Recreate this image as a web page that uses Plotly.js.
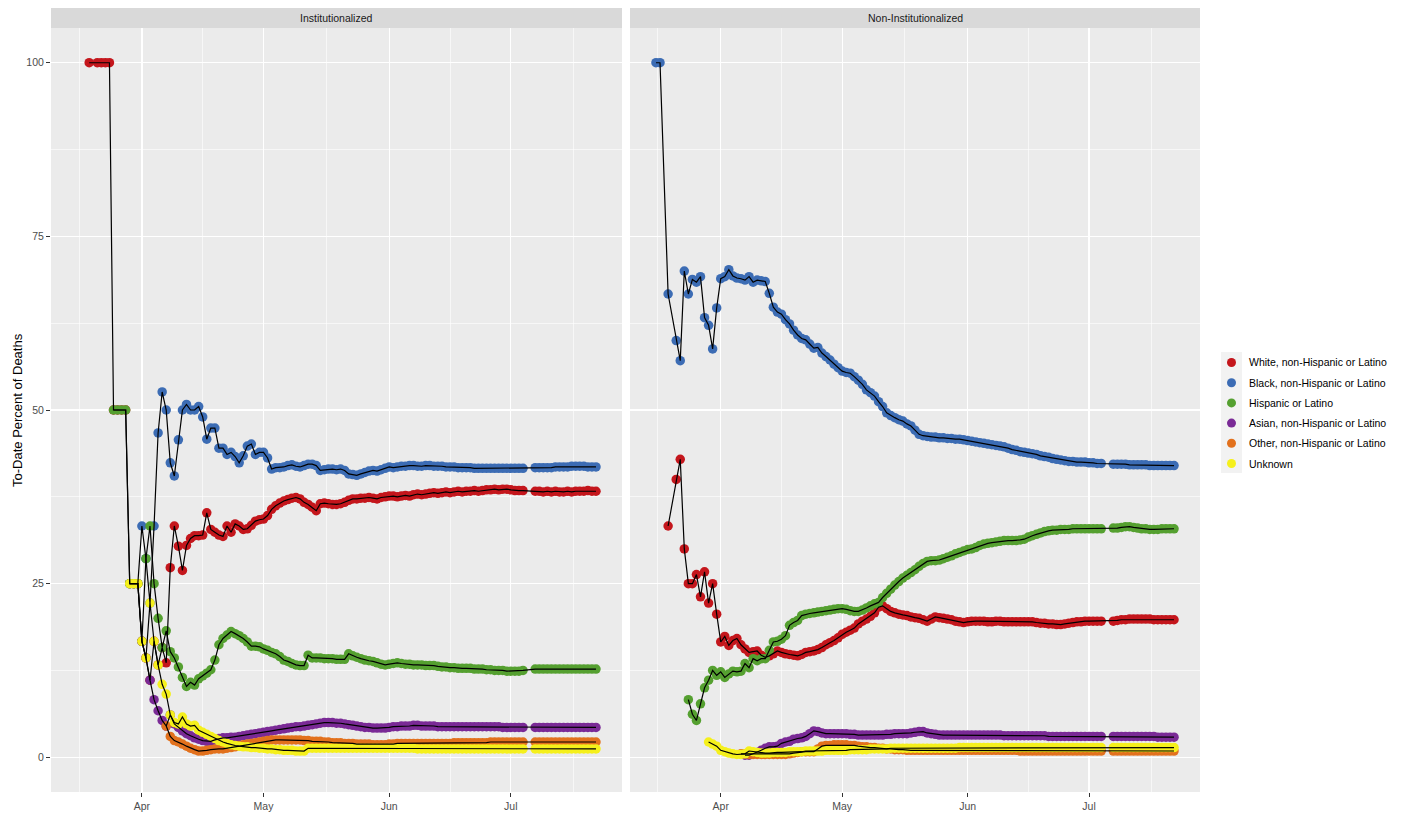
<!DOCTYPE html>
<html>
<head>
<meta charset="utf-8">
<script src="https://cdn.plot.ly/plotly-3.0.1.min.js"></script>
<style>html,body{margin:0;padding:0;background:#fff;overflow:hidden;}#chart{width:1402px;height:813px;}</style>
</head>
<body>
<div id="chart"></div>
<script>
// ---- DATA (daily, index 0 = 2020-03-16; null = no report that day) ----
const startDate = '2020-03-16';
const nDays = 129;
const panels = ['Institutionalized', 'Non-Institutionalized'];
const seriesNames = ['White, non-Hispanic or Latino','Black, non-Hispanic or Latino','Hispanic or Latino','Asian, non-Hispanic or Latino','Other, non-Hispanic or Latino','Unknown'];
const seriesColors = ['#C4161C','#3C6CB4','#55A030','#7A2A96','#E2711D','#F5F01C'];
const monthTicks = ['2020-04-01','2020-05-01','2020-06-01','2020-07-01'];
const monthLabels = ['Apr','May','Jun','Jul'];
const yTicks = [0,25,50,75,100];

// Institutionalized
const inst_white = [null,null,null,100,null,100,100,100,100,50,
 50,50,50,25,25,25,16.7,14.3,11.1,16.7,
 13.3,15.8,13.6,27.3,33.3,30.4,26.9,30.5,31.5,31.9,
 31.9,32.0,35.2,32.8,32.4,32.0,31.8,33.3,32.4,33.6,
 33.3,32.8,32.9,33.4,34.0,34.2,34.3,34.8,35.7,36.2,
 36.6,36.9,37.1,37.3,37.4,37.2,36.7,36.4,36.0,35.5,
 36.5,36.6,36.5,36.4,36.4,36.5,36.7,37.0,37.2,37.2,
 37.3,37.3,37.4,37.3,37.2,37.4,37.5,37.6,37.6,37.5,
 37.6,37.7,37.6,37.8,37.9,37.8,37.9,38.0,38.1,38.0,
 38.1,38.2,38.1,38.2,38.3,38.2,38.3,38.3,38.4,38.3,
 38.4,38.5,38.5,38.6,38.5,38.6,38.6,38.5,38.4,38.4,
 38.4,null,null,38.3,38.3,38.2,38.3,38.2,38.3,38.2,
 38.2,38.3,38.2,38.3,38.3,38.3,38.4,38.3,38.3];
const inst_black = [null,null,null,null,null,null,null,null,null,null,
 null,null,null,25,25,25,33.3,28.6,22.2,33.3,
 46.7,52.6,50.0,42.4,40.5,45.7,50.0,50.8,50.0,50.0,
 50.5,49.0,45.8,47.4,47.4,44.5,44.5,43.6,43.9,43.3,
 42.4,43.4,44.8,45.1,43.6,43.9,43.9,43.1,41.5,41.7,
 41.7,41.8,42.0,42.1,41.9,41.8,42.0,42.2,42.2,42.0,
 41.3,41.4,41.5,41.5,41.4,41.5,41.3,40.8,40.7,40.6,
 40.8,41.0,41.2,41.3,41.2,41.4,41.6,41.8,41.7,41.8,
 41.9,41.9,42.0,42.0,41.9,41.9,42.0,42.0,41.9,41.9,
 41.9,41.8,41.8,41.8,41.7,41.7,41.7,41.7,41.6,41.6,
 41.6,41.6,41.6,41.6,41.6,41.6,41.6,41.6,41.6,41.6,
 41.6,null,null,41.7,41.7,41.7,41.7,41.7,41.8,41.8,
 41.8,41.8,41.9,41.9,41.9,41.9,41.8,41.8,41.8];
const inst_hisp = [null,null,null,null,null,null,null,null,null,50,
 50,50,50,25,25,25,16.7,28.6,33.3,25.0,
 20.0,15.8,18.2,15.2,14.3,13.0,11.5,10.2,10.8,10.4,
 11.3,11.7,12.1,12.6,14.0,16.2,17.1,17.6,18.1,17.8,
 17.5,17.1,16.6,16.0,16.0,15.9,15.6,15.4,15.1,14.9,
 14.5,14.0,13.8,13.5,13.3,13.2,13.2,14.7,14.3,14.3,
 14.3,14.2,14.2,14.2,14.1,14.1,14.1,14.9,14.6,14.4,
 14.2,14.0,13.9,13.8,13.6,13.4,13.3,13.4,13.5,13.6,
 13.5,13.4,13.4,13.3,13.3,13.3,13.2,13.2,13.2,13.1,
 13.0,13.0,12.9,12.9,12.8,12.8,12.8,12.8,12.7,12.7,
 12.7,12.6,12.6,12.5,12.5,12.5,12.4,12.4,12.4,12.4,
 12.5,null,null,12.7,12.7,12.7,12.7,12.7,12.7,12.7,
 12.7,12.7,12.7,12.7,12.7,12.7,12.7,12.7,12.7];
const inst_asian = [null,null,null,null,null,null,null,null,null,null,
 null,null,null,null,null,null,16.7,14.3,11.1,8.3,
 6.7,5.3,4.5,6.1,4.8,4.3,3.8,3.4,3.1,2.8,
 2.6,2.4,2.3,2.3,2.5,2.7,2.8,2.8,2.9,2.9,
 3.0,3.1,3.2,3.3,3.4,3.5,3.6,3.7,3.8,3.9,
 4.0,4.1,4.2,4.3,4.4,4.4,4.5,4.6,4.7,4.8,
 4.9,5.0,5.0,5.0,4.9,4.9,4.8,4.7,4.6,4.5,
 4.4,4.3,4.3,4.2,4.2,4.2,4.2,4.3,4.4,4.4,
 4.5,4.5,4.5,4.6,4.6,4.5,4.5,4.5,4.5,4.4,
 4.4,4.4,4.4,4.4,4.4,4.4,4.4,4.4,4.4,4.4,
 4.4,4.4,4.4,4.4,4.4,4.3,4.3,4.3,4.3,4.3,
 4.3,null,null,4.3,4.3,4.3,4.3,4.3,4.3,4.3,
 4.3,4.3,4.3,4.3,4.3,4.3,4.3,4.3,4.3];
const inst_other = [null,null,null,null,null,null,null,null,null,null,
 null,null,null,null,null,null,null,null,null,null,
 null,null,4.5,3.0,2.4,2.2,1.9,1.6,1.3,1.1,
 0.9,0.9,1.0,1.1,1.2,1.2,1.2,1.3,1.4,1.5,
 1.7,1.8,1.9,2.0,2.1,2.2,2.3,2.4,2.5,2.5,
 2.5,2.5,2.5,2.5,2.5,2.5,2.4,2.4,2.3,2.3,
 2.3,2.2,2.2,2.1,2.1,2.1,2.0,2.0,2.0,1.9,
 1.9,1.9,1.9,1.8,1.8,1.8,1.8,1.9,1.9,2.0,
 2.0,2.0,2.0,2.0,2.0,2.0,2.0,2.0,2.0,2.0,
 2.0,2.0,2.0,2.1,2.1,2.1,2.1,2.1,2.1,2.1,
 2.1,2.1,2.2,2.2,2.2,2.2,2.2,2.2,2.2,2.2,
 2.2,null,null,2.2,2.2,2.2,2.2,2.2,2.2,2.2,
 2.2,2.2,2.2,2.2,2.2,2.2,2.2,2.2,2.2];
const inst_unknown = [null,null,null,null,null,null,null,null,null,null,
 null,null,null,25,25,25,16.7,14.3,22.2,16.7,
 13.3,10.5,9.1,6.1,5.0,4.8,5.8,4.8,4.5,4.6,
 3.9,3.6,3.3,3.0,2.7,2.4,2.2,2.0,1.8,1.7,
 1.6,1.5,1.5,1.4,1.4,1.3,1.3,1.2,1.2,1.1,
 1.1,1.0,1.0,1.0,0.9,0.9,0.9,1.3,1.3,1.3,
 1.3,1.3,1.3,1.3,1.3,1.3,1.3,1.3,1.3,1.3,
 1.3,1.3,1.3,1.3,1.3,1.3,1.3,1.3,1.3,1.3,
 1.3,1.3,1.3,1.3,1.2,1.2,1.2,1.2,1.2,1.2,
 1.2,1.2,1.2,1.2,1.2,1.2,1.2,1.2,1.2,1.2,
 1.2,1.2,1.2,1.2,1.2,1.2,1.2,1.2,1.2,1.2,
 1.2,null,null,1.2,1.2,1.2,1.2,1.2,1.2,1.2,
 1.2,1.2,1.2,1.2,1.2,1.2,1.2,1.2,1.2];

// Non-Institutionalized
const non_white = [null,null,null,33.3,null,40.0,42.9,30.0,25.0,25.0,
 26.3,23.1,26.7,22.2,25.0,20.6,16.6,17.4,16.1,16.8,
 17.1,16.2,15.6,15.1,15.2,15.3,14.7,14.4,14.6,14.9,
 15.3,15.1,14.9,14.8,14.7,14.6,14.8,15.1,15.2,15.3,
 15.5,15.8,16.2,16.5,16.8,17.2,17.7,18.0,18.3,18.6,
 19.2,19.6,19.9,20.3,20.8,21.6,21.8,21.4,21.0,20.8,
 20.6,20.5,20.4,20.2,20.1,20.0,19.8,19.6,19.9,20.2,
 20.1,20.0,19.9,19.8,19.6,19.5,19.4,19.5,19.6,19.6,
 19.6,19.6,19.5,19.5,19.6,19.6,19.5,19.5,19.5,19.5,
 19.5,19.5,19.5,19.5,19.4,19.3,19.3,19.2,19.2,19.1,
 19.1,19.2,19.3,19.4,19.5,19.5,19.6,19.6,19.6,19.6,
 19.6,null,null,19.6,19.7,19.8,19.8,19.9,19.9,19.9,
 19.9,19.9,19.9,19.8,19.8,19.8,19.8,19.8,19.8];
const non_black = [100,100,null,66.7,null,60.0,57.1,70.0,66.7,68.8,
 68.4,69.2,63.3,62.2,58.8,64.7,68.9,69.2,70.2,69.3,
 69.0,68.9,68.7,69.2,68.4,68.7,68.6,68.5,66.8,64.8,
 64.1,63.8,63.0,62.4,61.5,60.8,60.3,60.1,59.5,58.9,
 59.0,58.2,57.7,57.2,56.6,56.1,55.6,55.4,55.3,54.8,
 54.3,53.7,52.9,52.5,52.0,51.2,50.5,49.6,49.2,48.9,
 48.6,48.4,48.0,47.7,47.1,46.5,46.3,46.2,46.1,46.1,
 46.0,46.0,45.9,45.9,45.8,45.8,45.7,45.6,45.5,45.4,
 45.3,45.2,45.1,45.0,44.9,44.8,44.7,44.5,44.3,44.2,
 44.0,43.9,43.8,43.7,43.6,43.4,43.3,43.2,43.0,42.9,
 42.8,42.7,42.6,42.6,42.5,42.5,42.5,42.4,42.4,42.3,
 42.3,null,null,42.2,42.2,42.2,42.2,42.1,42.1,42.1,
 42.1,42.1,42.0,42.0,42.0,42.0,42.0,42.0,42.0];
const non_hisp = [null,null,null,null,null,null,null,null,8.3,6.2,
 5.3,7.7,10.0,11.1,12.5,11.8,12.3,11.5,12.0,12.4,
 12.3,12.4,13.5,12.9,14.2,13.9,14.2,14.2,15.4,16.6,
 16.7,17.0,17.5,19.0,19.4,19.7,20.4,20.6,20.7,20.8,
 20.9,21.0,21.1,21.2,21.3,21.4,21.4,21.3,21.1,21.0,
 21.0,21.2,21.5,21.8,22.1,22.3,23.0,23.6,24.2,24.8,
 25.3,25.8,26.2,26.6,27.0,27.5,27.9,28.2,28.3,28.3,
 28.4,28.6,28.8,29.0,29.3,29.5,29.7,29.9,30.0,30.2,
 30.5,30.7,30.8,30.9,31.0,31.1,31.2,31.2,31.2,31.2,
 31.3,31.4,31.7,31.9,32.1,32.3,32.5,32.6,32.7,32.7,
 32.8,32.8,32.8,32.9,32.9,32.9,32.9,32.9,32.9,32.9,
 32.9,null,null,33.0,33.0,33.1,33.2,33.2,33.1,33.0,
 32.9,32.9,32.8,32.8,32.8,32.9,32.9,32.9,32.9];
const non_asian = [null,null,null,null,null,null,null,null,null,null,
 null,null,null,null,null,null,null,null,null,null,
 null,null,0.3,0.3,0.5,0.7,1.0,1.3,1.5,1.5,
 1.6,2.0,2.2,2.3,2.6,2.7,2.8,3.0,3.4,3.8,
 3.7,3.5,3.4,3.4,3.4,3.4,3.4,3.4,3.3,3.3,
 3.2,3.2,3.2,3.2,3.2,3.2,3.2,3.3,3.3,3.4,
 3.4,3.4,3.4,3.5,3.6,3.7,3.7,3.5,3.4,3.3,
 3.2,3.2,3.2,3.2,3.2,3.2,3.2,3.2,3.2,3.2,
 3.2,3.2,3.2,3.2,3.2,3.2,3.1,3.1,3.1,3.1,
 3.1,3.1,3.1,3.1,3.1,3.1,3.1,3.0,3.0,3.0,
 3.0,3.0,3.0,3.0,3.0,3.0,3.0,3.0,3.0,3.0,
 3.0,null,null,3.0,3.0,3.0,3.0,3.0,3.0,3.0,
 3.0,3.0,3.0,3.0,2.9,2.9,2.9,2.9,2.9];
const non_other = [null,null,null,null,null,null,null,null,null,null,
 null,null,null,null,null,null,null,null,null,null,
 null,0.5,0.5,0.4,0.4,0.4,0.4,0.4,0.4,0.4,
 0.4,0.4,0.4,0.5,0.6,0.7,0.8,0.8,0.8,0.8,
 1.2,1.6,1.7,1.7,1.8,1.8,1.8,1.8,1.7,1.7,
 1.6,1.5,1.5,1.4,1.4,1.3,1.3,1.2,1.2,1.1,
 1.1,1.1,1.0,1.0,1.0,1.0,1.0,1.0,1.0,1.0,
 1.0,1.0,1.0,1.0,1.0,1.0,1.0,1.0,1.0,1.0,
 1.0,1.0,1.0,1.0,1.0,1.0,1.0,1.0,1.0,1.0,
 0.9,0.9,0.9,0.9,0.9,0.9,0.9,0.9,0.9,0.9,
 0.9,0.9,0.9,0.9,0.9,0.9,0.9,0.9,0.9,0.9,
 0.9,null,null,0.9,0.9,0.9,0.9,0.9,0.9,0.9,
 0.9,0.9,0.9,0.9,0.9,0.9,0.9,0.9,0.9];
const non_unknown = [null,null,null,null,null,null,null,null,null,null,
 null,null,null,2.2,1.9,1.6,1.0,0.8,0.6,0.5,
 0.4,0.4,0.5,0.9,0.8,0.7,0.6,0.6,0.6,0.7,
 0.7,0.7,0.7,0.8,0.8,0.8,0.8,0.9,0.9,0.9,
 0.9,0.9,1.0,1.0,1.0,1.0,1.0,1.0,1.1,1.1,
 1.1,1.1,1.1,1.2,1.2,1.2,1.2,1.2,1.3,1.3,
 1.3,1.3,1.3,1.3,1.3,1.3,1.3,1.3,1.3,1.3,
 1.3,1.3,1.3,1.3,1.3,1.4,1.4,1.4,1.4,1.4,
 1.4,1.4,1.4,1.4,1.4,1.4,1.4,1.4,1.4,1.4,
 1.4,1.4,1.4,1.4,1.4,1.4,1.4,1.4,1.4,1.4,
 1.4,1.4,1.4,1.4,1.4,1.4,1.4,1.4,1.4,1.4,
 1.4,null,null,1.4,1.4,1.4,1.4,1.4,1.4,1.4,
 1.4,1.4,1.4,1.4,1.4,1.4,1.4,1.4,1.4];

const panelData = [
  [inst_white, inst_black, inst_hisp, inst_asian, inst_other, inst_unknown],
  [non_white, non_black, non_hisp, non_asian, non_other, non_unknown]
];

// ---- build dates ----
const dates = [];
for (let i = 0; i < nDays; i++) {
  const d = new Date(startDate + 'T00:00:00Z');
  d.setUTCDate(d.getUTCDate() + i);
  dates.push(d.toISOString().slice(0, 10));
}

const FONT = '"Liberation Sans", Arial, Helvetica, sans-serif';
const traces = [];
// points first (ggplot draws points, then lines on top)
panelData.forEach((arrs, p) => {
  arrs.forEach((vals, s) => {
    traces.push({
      type: 'scatter', mode: 'markers',
      x: dates, y: vals,
      xaxis: p === 0 ? 'x' : 'x2', yaxis: p === 0 ? 'y' : 'y2',
      name: seriesNames[s], showlegend: false,
      marker: {color: seriesColors[s], size: 9.5, line: {width: 0}},
      hoverinfo: 'skip'
    });
  });
});
panelData.forEach((arrs, p) => {
  arrs.forEach((vals, s) => {
    traces.push({
      type: 'scatter', mode: 'lines',
      x: dates, y: vals, connectgaps: true,
      xaxis: p === 0 ? 'x' : 'x2', yaxis: p === 0 ? 'y' : 'y2',
      showlegend: false,
      line: {color: '#000000', width: 1.2},
      hoverinfo: 'skip'
    });
  });
});

const plotW = 1402 - 51 - 202, plotH = 813 - 28 - 21;
const px2x = px => (px - 51) / plotW;
const py2y = py => (792 - py) / plotH;
const dom1 = [0, px2x(622)];
const dom2 = [px2x(630), 1];
const xRange = ['2020-03-09 14:00', '2020-07-28 10:00'];
const minorX = ['2020-03-16 12:00', '2020-04-16', '2020-05-16 12:00', '2020-06-16', '2020-07-16 12:00'];

function xAxis(dom, anchor) {
  return {
    domain: dom, anchor: anchor, type: 'date', range: xRange,
    tickmode: 'array', tickvals: monthTicks, ticktext: monthLabels,
    ticks: 'outside', ticklen: 4, tickwidth: 1, tickcolor: '#333333',
    tickfont: {family: FONT, size: 10.5, color: '#4D4D4D'},
    showgrid: true, gridcolor: '#FFFFFF', gridwidth: 1.3,
    minor: {tickmode: 'array', tickvals: minorX, showgrid: true, gridcolor: '#FFFFFF', gridwidth: 0.6, ticks: ''},
    zeroline: false, showline: false, automargin: false, fixedrange: true
  };
}
function yAxis(anchor, labels) {
  return {
    anchor: anchor, domain: [0, 1], range: [-5, 105],
    tickmode: 'array', tickvals: yTicks, ticktext: yTicks.map(String),
    ticks: labels ? 'outside' : '', ticklen: 4, tickwidth: 1, tickcolor: '#333333',
    showticklabels: labels,
    tickfont: {family: FONT, size: 10.5, color: '#4D4D4D'},
    showgrid: true, gridcolor: '#FFFFFF', gridwidth: 1.3,
    minor: {tickmode: 'array', tickvals: [12.5, 37.5, 62.5, 87.5], showgrid: true, gridcolor: '#FFFFFF', gridwidth: 0.6, ticks: ''},
    zeroline: false, showline: false, automargin: false, fixedrange: true
  };
}

const shapes = [
  {type: 'rect', xref: 'paper', yref: 'paper', x0: dom1[0], x1: dom1[1], y0: 1, y1: py2y(8), fillcolor: '#D9D9D9', line: {width: 0}, layer: 'below'},
  {type: 'rect', xref: 'paper', yref: 'paper', x0: dom2[0], x1: dom2[1], y0: 1, y1: py2y(8), fillcolor: '#D9D9D9', line: {width: 0}, layer: 'below'},
  {type: 'rect', xref: 'paper', yref: 'paper', x0: px2x(1221), x1: px2x(1242), y0: py2y(473), y1: py2y(352), fillcolor: '#F2F2F2', line: {width: 0}, layer: 'below'}
];
const annotations = [
  {text: panels[0], xref: 'paper', yref: 'paper', x: (dom1[0] + dom1[1]) / 2, y: py2y(18), xanchor: 'center', yanchor: 'middle', showarrow: false, font: {family: FONT, size: 10.5, color: '#1A1A1A'}},
  {text: panels[1], xref: 'paper', yref: 'paper', x: (dom2[0] + dom2[1]) / 2, y: py2y(18), xanchor: 'center', yanchor: 'middle', showarrow: false, font: {family: FONT, size: 10.5, color: '#1A1A1A'}},
  {text: 'To-Date Percent of Deaths', xref: 'paper', yref: 'paper', x: px2x(17), y: py2y(410), xanchor: 'center', yanchor: 'middle', textangle: -90, showarrow: false, font: {family: FONT, size: 13, color: '#000000'}}
];
// legend (keys + labels)
seriesNames.forEach((name, s) => {
  const cy = 362.5 + s * 20.2;
  shapes.push({type: 'circle', xref: 'paper', yref: 'paper', xsizemode: 'pixel', ysizemode: 'pixel',
    xanchor: px2x(1231.5), yanchor: py2y(cy), x0: -4.5, x1: 4.5, y0: -4.5, y1: 4.5,
    fillcolor: seriesColors[s], line: {width: 0}});
  annotations.push({text: name, xref: 'paper', yref: 'paper', x: px2x(1247), y: py2y(cy), xanchor: 'left', yanchor: 'middle',
    showarrow: false, font: {family: FONT, size: 10.5, color: '#000000'}});
});

const layout = {
  width: 1402, height: 813,
  margin: {l: 51, r: 202, t: 28, b: 21, pad: 0},
  paper_bgcolor: '#FFFFFF', plot_bgcolor: '#EBEBEB',
  font: {family: FONT, color: '#000000'},
  hovermode: false, showlegend: false,
  xaxis: xAxis(dom1, 'y'),
  xaxis2: xAxis(dom2, 'y2'),
  yaxis: yAxis('x', true),
  yaxis2: yAxis('x2', false),
  shapes: shapes,
  annotations: annotations
};

Plotly.newPlot('chart', traces, layout, {displayModeBar: false, staticPlot: true});
</script>
</body>
</html>
